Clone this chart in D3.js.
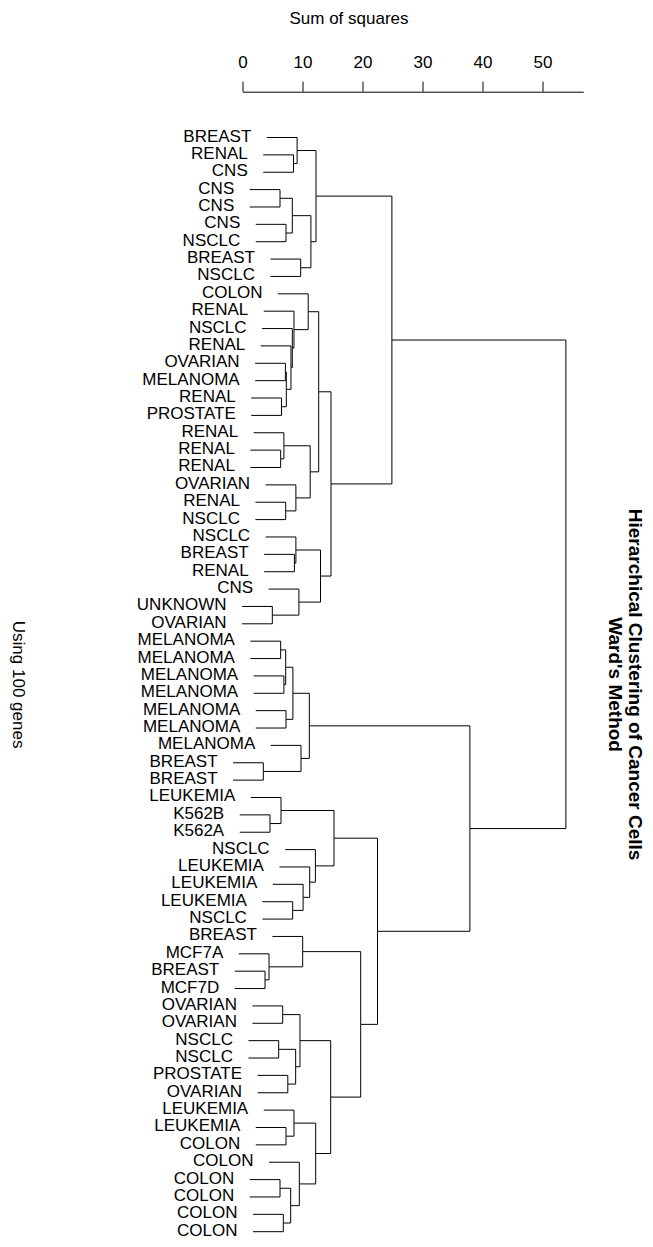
<!DOCTYPE html>
<html>
<head>
<meta charset="utf-8">
<script src="https://cdn.jsdelivr.net/npm/d3@7"></script>
<style>
  html, body { margin: 0; padding: 0; background: #fff; }
  svg text { font-family: "Liberation Sans", Arial, Helvetica, sans-serif; fill: #000; }
</style>
</head>
<body>
<svg id="chart" width="653" height="1247"></svg>
<script>
// Cell-line labels, in leaf order (top to bottom)
const labels = [
  "BREAST","RENAL","CNS","CNS","CNS","CNS","NSCLC","BREAST","NSCLC","COLON",
  "RENAL","NSCLC","RENAL","OVARIAN","MELANOMA","RENAL","PROSTATE","RENAL","RENAL","RENAL",
  "OVARIAN","RENAL","NSCLC","NSCLC","BREAST","RENAL","CNS","UNKNOWN","OVARIAN","MELANOMA",
  "MELANOMA","MELANOMA","MELANOMA","MELANOMA","MELANOMA","MELANOMA","BREAST","BREAST","LEUKEMIA","K562B",
  "K562A","NSCLC","LEUKEMIA","LEUKEMIA","LEUKEMIA","NSCLC","BREAST","MCF7A","BREAST","MCF7D",
  "OVARIAN","OVARIAN","NSCLC","NSCLC","PROSTATE","OVARIAN","LEUKEMIA","LEUKEMIA","COLON","COLON",
  "COLON","COLON","COLON","COLON"
];

// Agglomeration steps (hclust style): negative = leaf number, positive = earlier step
const merges = [
  [-2,-3],[-1,1],[-4,-5],[-6,-7],[3,4],[-8,-9],[5,6],[2,7],
  [-14,-15],[-16,-17],[9,10],[-13,11],[-12,12],[-11,13],[-10,14],
  [-19,-20],[-18,16],[-22,-23],[-21,18],[17,19],[15,20],
  [-25,-26],[-24,22],[-28,-29],[-27,24],[23,25],[21,26],[8,27],
  [-30,-31],[-32,-33],[29,30],[-34,-35],[31,32],[-37,-38],[-36,34],[33,35],
  [-40,-41],[-39,37],[-45,-46],[-44,39],[-43,40],[-42,41],[38,42],
  [-49,-50],[-48,44],[-47,45],
  [-51,-52],[-53,-54],[-55,-56],[48,49],[47,50],
  [-58,-59],[-57,52],[-61,-62],[-63,-64],[54,55],[-60,56],[53,57],
  [51,58],[46,59],[43,60],[36,61],[28,62]
];

// Merge heights (sum of squares), one per step
const heights = [
  8.5, 9.1, 6.25, 7.25, 8.3, 9.7, 11.4, 12.25,
  7.15, 6.5, 7.3, 8.08, 8.3, 8.58, 10.95,
  6.36, 6.9, 7.2, 8.9, 11.28, 12.7,
  8.65, 8.9, 4.97, 9.4, 13.0, 14.75, 24.9,
  6.36, 6.9, 7.2, 7.25, 8.4, 3.47, 9.75, 11.14,
  4.58, 6.42, 8.36, 10.1, 11.2, 12.15, 15.25,
  3.75, 4.42, 10.03,
  6.7, 6.03, 7.55, 8.86, 9.58,
  7.25, 8.58, 6.25, 6.8, 8.03, 9.47, 12.2,
  14.7, 19.7, 22.5, 37.9, 53.9
];

const axisTicks = [0, 10, 20, 30, 40, 50];
const axisMax = 56.8;
const hangFraction = 0.1;

const svg = d3.select("#chart");
const fontSize = 17;

// Scales: height runs left to right, leaves top to bottom
const x = d3.scaleLinear().domain([0, axisMax]).range([242.5, 242.5 + 6.0 * axisMax]);
const y = d3.scaleLinear().domain([0, labels.length - 1]).range([137.5, 1231.7]);
const midY = (y.range()[0] + y.range()[1]) / 2;

// Build the tree from the merge table
const steps = [];
function child(k) {
  return k < 0 ? { leaf: -k - 1, label: labels[-k - 1] } : steps[k - 1];
}
merges.forEach((m, i) => {
  steps.push({ height: heights[i], children: [child(m[0]), child(m[1])] });
});
const root = d3.hierarchy(steps[steps.length - 1]);

const hang = hangFraction * (d3.max(heights) - d3.min(heights));

// Leaf rows by order, internal nodes at the midpoint of their two children
root.eachAfter(n => {
  if (!n.children) n.py = y(n.data.leaf);
  else n.py = (n.children[0].py + n.children[1].py) / 2;
});
root.each(n => {
  if (n.children) n.px = x(n.data.height);
  else n.px = x(n.parent.data.height - hang);
});

// Elbow links
const g = svg.append("g")
  .attr("fill", "none")
  .attr("stroke", "#000")
  .attr("stroke-width", 1);

g.selectAll("path")
  .data(root.descendants().filter(n => n.parent))
  .join("path")
  .attr("d", n => `M${n.px},${n.py}H${n.parent.px}V${n.parent.py}`);

// Leaf labels
svg.append("g")
  .attr("font-size", fontSize)
  .attr("text-anchor", "end")
  .selectAll("text")
  .data(root.leaves())
  .join("text")
  .attr("x", n => n.px - 15.5)
  .attr("y", n => n.py + 4)
  .text(n => n.data.label);

// Height axis along the top
const axis = svg.append("g")
  .attr("transform", "translate(0,91.7)")
  .call(d3.axisTop(x).tickValues(axisTicks).tickSize(10).tickSizeOuter(0).tickPadding(14));
axis.select(".domain").attr("stroke", "#000");
axis.selectAll(".tick line").attr("stroke", "#000");
axis.selectAll(".tick text")
  .attr("font-size", fontSize)
  .attr("font-family", "Liberation Sans, Arial, sans-serif")
  .attr("fill", "#000");

svg.append("text")
  .attr("x", 349)
  .attr("y", 23.5)
  .attr("text-anchor", "middle")
  .attr("font-size", fontSize)
  .text("Sum of squares");

// Side captions, turned to read top to bottom, centred on the leaf span
svg.append("text")
  .attr("transform", `translate(13,${midY}) rotate(90)`)
  .attr("text-anchor", "middle")
  .attr("font-size", fontSize)
  .text("Using 100 genes");

svg.append("text")
  .attr("transform", `translate(629,${midY}) rotate(90)`)
  .attr("text-anchor", "middle")
  .attr("font-size", 19)
  .attr("font-weight", "bold")
  .text("Hierarchical Clustering of Cancer Cells");

svg.append("text")
  .attr("transform", `translate(608.5,${midY}) rotate(90)`)
  .attr("text-anchor", "middle")
  .attr("font-size", 19)
  .attr("font-weight", "bold")
  .text("Ward's Method");
</script>
</body>
</html>
